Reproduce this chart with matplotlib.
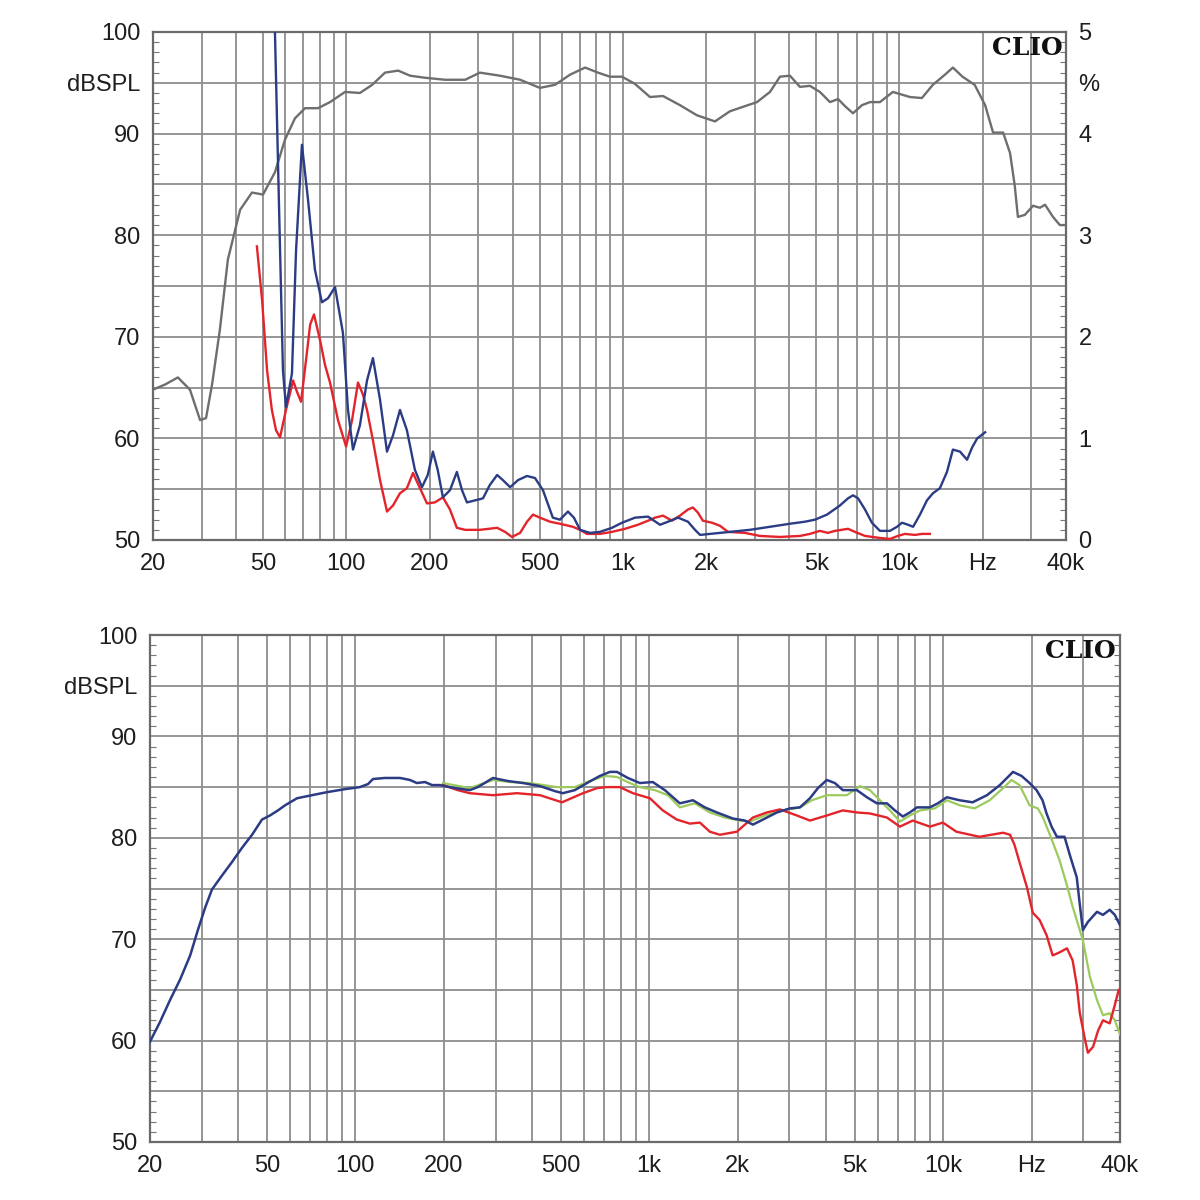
import matplotlib
matplotlib.use("Agg")
import matplotlib.pyplot as plt
from matplotlib.ticker import MultipleLocator, NullLocator

# ---------------- data: top chart ----------------
# SPL response (gray), left axis dB
spl_f = [20, 22.1, 24.6, 27.2, 29.6, 31.1, 32.7, 34.9, 37.3, 41.3, 45.6, 50.0, 55.2, 60.0, 65.2, 70.9,
         79.0, 87.3, 98.9, 112, 124, 138, 154, 170, 192, 227, 269, 304, 359, 425, 501, 568, 644, 730,
         813, 898, 992, 1105, 1253, 1396, 1608, 1853, 2153, 2438, 2762, 3053, 3402, 3697, 4017, 4366,
         4745, 5156, 5607, 5998, 6355, 6792, 7318, 7820, 8497, 9466, 10910, 12050, 13200, 14600, 15600,
         16900, 18700, 20400, 21800, 23700, 25100, 26100, 26800, 28400, 30400, 32200, 33600, 35900,
         38000, 40000]
spl_db = [64.8, 65.3, 66.0, 64.8, 61.8, 62.0, 65.3, 70.7, 77.6, 82.5, 84.2, 84.0, 86.2, 89.4, 91.5, 92.5,
          92.5, 93.1, 94.1, 94.0, 94.8, 96.0, 96.2, 95.7, 95.5, 95.3, 95.3, 96.0, 95.7, 95.3, 94.5, 94.8,
          95.8, 96.5, 96.0, 95.6, 95.6, 94.9, 93.6, 93.7, 92.8, 91.8, 91.2, 92.2, 92.7, 93.1, 94.1, 95.6,
          95.7, 94.6, 94.7, 94.1, 93.1, 93.4, 92.7, 92.0, 92.8, 93.1, 93.1, 94.1, 93.6, 93.5, 94.8, 95.8,
          96.5, 95.6, 94.8, 92.8, 90.1, 90.1, 88.1, 84.9, 81.8, 82.0, 82.9, 82.7, 83.0, 81.8, 81.0, 81.0]

# Distortion (blue) in %, right axis
thd2_f = [53.4, 55.2, 57.6, 59.0, 60.5, 63.6, 65.8, 69.1, 72.7, 77.0, 81.6, 85.9, 91.0, 97.2, 101.4,
          105.7, 112, 118.8, 124.8, 132.4, 140.3, 147.5, 156.3, 165.6, 177, 187.7, 197, 205.6, 214,
          223.5, 237, 251, 262, 273, 292, 312, 330, 351, 368, 391, 418, 450, 481, 514, 558, 592, 633,
          665, 700, 760, 826, 913, 993, 1106, 1233, 1362, 1456, 1582, 1719, 1823, 1901, 2065, 2438,
          2878, 3402, 4017, 4550, 4946, 5470, 6094, 6514, 6792, 7084, 7505, 7949, 8497, 9241, 9795,
          10210, 10740, 11200, 11860, 12570, 13210, 14000, 14850, 15600, 16550, 17550, 18300, 19100,
          20400]
thd2_pct = [5.6, 5.0, 2.85, 1.67, 1.31, 1.64, 2.85, 3.89, 3.35, 2.66, 2.34, 2.38, 2.49, 2.04, 1.28,
            0.89, 1.13, 1.57, 1.79, 1.38, 0.87, 1.03, 1.28, 1.08, 0.69, 0.52, 0.64, 0.87, 0.69, 0.42,
            0.49, 0.67, 0.49, 0.37, 0.39, 0.41, 0.54, 0.64, 0.59, 0.52, 0.59, 0.63, 0.61, 0.49, 0.22,
            0.20, 0.28, 0.22, 0.10, 0.07, 0.08, 0.12, 0.17, 0.22, 0.23, 0.15, 0.18, 0.22, 0.18, 0.10,
            0.05, 0.06, 0.08, 0.10, 0.13, 0.16, 0.18, 0.20, 0.25, 0.34, 0.41, 0.44, 0.41, 0.30, 0.17,
            0.09, 0.09, 0.13, 0.17, 0.15, 0.13, 0.25, 0.39, 0.46, 0.51, 0.67, 0.89, 0.87, 0.79, 0.91,
            1.00, 1.06]

# Distortion (red) in %, right axis
thd3_f = [47.5, 49.6, 51.7, 53.8, 55.7, 57.6, 60.5, 64.2, 66.3, 68.6, 71.5, 74.0, 76.4, 80.3, 83.8,
          87.3, 93.3, 99.8, 104.9, 110.2, 114.9, 118.8, 124.8, 132.4, 140.3, 147.5, 156.3, 165.6,
          174.2, 184.6, 195.7, 209, 223.5, 237, 251, 269, 304, 351, 375, 397, 425, 450, 473, 501, 545,
          592, 659, 700, 741, 826, 913, 1017, 1133, 1233, 1307, 1396, 1504, 1608, 1719, 1791, 1867,
          1946, 2100, 2244, 2399, 2762, 3128, 3697, 4366, 4745, 5156, 5510, 5846, 6514, 6902, 7505,
          8497, 9241, 9863, 10460, 11370, 12050, 12880]
thd3_pct = [2.89, 2.36, 1.67, 1.28, 1.08, 1.01, 1.28, 1.57, 1.46, 1.36, 1.77, 2.12, 2.22, 1.97, 1.72,
            1.55, 1.18, 0.92, 1.18, 1.55, 1.43, 1.28, 0.98, 0.59, 0.28, 0.34, 0.46, 0.51, 0.66, 0.51,
            0.36, 0.37, 0.42, 0.30, 0.12, 0.10, 0.10, 0.12, 0.08, 0.03, 0.07, 0.18, 0.25, 0.22, 0.18,
            0.16, 0.13, 0.10, 0.06, 0.06, 0.08, 0.11, 0.15, 0.19, 0.22, 0.24, 0.19, 0.24, 0.30, 0.32,
            0.27, 0.19, 0.17, 0.14, 0.08, 0.07, 0.04, 0.03, 0.04, 0.06, 0.09, 0.07, 0.09, 0.11, 0.08,
            0.04, 0.02, 0.01, 0.04, 0.06, 0.05, 0.06, 0.06]

# ---------------- data: bottom chart ----------------
blue_f = [20, 21.6, 23.4, 25.3, 27.4, 29.1, 30.8, 32.5, 35.2, 38.0, 41.1, 44.5, 48.1, 51.2, 54.5, 57.6,
          63.3, 71.1, 80.0, 92.2, 103.6, 110.4, 114.8, 126.1, 141.9, 153.5, 161.9, 172.5, 182.3, 194,
          218, 245, 261, 294, 330, 372, 425, 478, 508, 558, 614, 679, 735, 776, 846, 929, 1028, 1130,
          1271, 1409, 1546, 1698, 1926, 2115, 2253, 2477, 2719, 3011, 3257, 3523, 3750, 4020, 4283,
          4558, 5089, 5504, 5953, 6439, 6855, 7296, 7707, 8148, 9017, 9595, 10300, 11400, 12600,
          14100, 15600, 17300, 18500, 19700, 20800, 21800, 22500, 23400, 24400, 25900, 27000, 28500,
          29200, 29900, 31100, 33400, 35000, 36900, 38400, 40000]
blue_db = [59.9, 61.8, 64.0, 66.0, 68.4, 70.9, 73.1, 74.9, 76.3, 77.6, 79.0, 80.3, 81.8, 82.2, 82.7,
           83.2, 83.9, 84.2, 84.5, 84.8, 85.0, 85.3, 85.8, 85.9, 85.9, 85.7, 85.4, 85.5, 85.2, 85.2,
           84.9, 84.7, 85.0, 85.9, 85.6, 85.4, 85.1, 84.6, 84.4, 84.7, 85.4, 86.1, 86.5, 86.5, 85.9,
           85.4, 85.5, 84.7, 83.4, 83.7, 83.0, 82.5, 81.9, 81.7, 81.3, 81.9, 82.5, 82.9, 83.0, 83.9,
           84.9, 85.7, 85.4, 84.7, 84.7, 84.0, 83.4, 83.4, 82.7, 82.1, 82.5, 83.0, 83.0, 83.4, 84.0,
           83.7, 83.5, 84.2, 85.2, 86.5, 86.1, 85.4, 84.7, 83.7, 82.4, 81.1, 80.1, 80.1, 78.3, 76.1,
           73.4, 70.9, 71.7, 72.7, 72.4, 72.9, 72.4, 71.4]

green_f = [198.6, 245, 294, 336, 393, 485, 558, 628, 706, 776, 859, 929, 1045, 1158, 1271, 1429, 1608,
           1807, 2033, 2203, 2477, 2851, 3257, 3576, 4020, 4705, 5211, 5637, 6096, 6593, 7129, 7707,
           8337, 9376, 10300, 11400, 12800, 14400, 16000, 17100, 18200, 19700, 21000, 21800, 23100,
           24900, 26400, 27600, 29900, 31600, 33400, 35000, 36900, 38400, 40000]
green_db = [85.4, 84.9, 85.7, 85.5, 85.4, 85.0, 85.0, 85.6, 86.1, 86.0, 85.4, 85.0, 84.7, 84.2, 83.0,
            83.4, 82.5, 82.0, 81.7, 81.6, 82.2, 82.7, 83.0, 83.7, 84.2, 84.2, 85.1, 84.7, 83.7, 82.7,
            81.6, 82.2, 82.7, 82.9, 83.7, 83.2, 82.9, 83.7, 84.9, 85.7, 85.2, 83.2, 82.9, 82.1, 80.3,
            77.8, 75.3, 73.2, 69.9, 66.3, 64.0, 62.5, 62.7, 62.0, 60.6]

red_f = [198.6, 223, 245, 294, 355, 425, 505, 595, 664, 718, 794, 880, 1005, 1112, 1241, 1375, 1487,
         1608, 1739, 1987, 2253, 2513, 2786, 3180, 3523, 4020, 4558, 5089, 5637, 6439, 7129, 7886,
         9017, 9985, 11100, 13300, 16000, 16900, 17500, 18200, 19300, 20200, 21300, 22500, 23600,
         24900, 26400, 27600, 28500, 29200, 30400, 31100, 32400, 33700, 35000, 36900, 38400, 39600]
red_db = [85.2, 84.7, 84.4, 84.2, 84.4, 84.2, 83.5, 84.4, 84.9, 85.0, 85.0, 84.4, 83.9, 82.7, 81.8,
          81.4, 81.5, 80.6, 80.3, 80.6, 82.0, 82.5, 82.8, 82.2, 81.7, 82.2, 82.7, 82.5, 82.4, 82.0,
          81.1, 81.7, 81.1, 81.5, 80.6, 80.1, 80.5, 80.3, 79.3, 77.6, 75.1, 72.6, 71.9, 70.4, 68.4,
          68.7, 69.1, 67.9, 65.5, 62.7, 60.1, 58.8, 59.4, 61.0, 62.0, 61.7, 63.5, 65.0]

# ---------------- axis labelling ----------------
grid_freqs = [20, 30, 40, 50, 60, 70, 80, 90, 100, 200, 300, 400, 500, 600, 700, 800, 900,
              1000, 2000, 3000, 4000, 5000, 6000, 7000, 8000, 9000, 10000, 20000, 30000, 40000]
x_labels = {20: "20", 50: "50", 100: "100", 200: "200", 500: "500", 1000: "1k", 2000: "2k",
            5000: "5k", 10000: "10k", 20000: "Hz", 40000: "40k"}
y_ticks = [50, 55, 60, 65, 70, 75, 80, 85, 90, 95, 100]
y_labels = {50: "50", 60: "60", 70: "70", 80: "80", 90: "90", 95: "dBSPL", 100: "100"}
pct_ticks = [0, 0.5, 1, 1.5, 2, 2.5, 3, 3.5, 4, 4.5, 5]
pct_labels = {0: "0", 1: "1", 2: "2", 3: "3", 4: "4", 4.5: "%", 5: "5"}

# ---------------- drawing ----------------
FONT = "Liberation Sans"
TXT = "#1e1e1e"
GRID = "#8e8e8e"
SPINE = "#6a6a6a"
FS = 17

fig = plt.figure(figsize=(12, 12), dpi=100)
fig.patch.set_facecolor("white")
W = H = 1200.0
ax1 = fig.add_axes([153 / W, 1 - 540 / H, (1066 - 153) / W, (540 - 32) / H])
ax2 = fig.add_axes([150 / W, 1 - 1142 / H, (1120 - 150) / W, (1142 - 635) / H])

# twin (percent) axis for the top chart, created before styling the shared x axis
ax1.set_xscale("log")
ax1r = ax1.twinx()


def style(ax):
    ax.set_xscale("log")
    ax.set_xlim(20, 40000)
    ax.set_ylim(50, 100)
    ax.set_xticks(grid_freqs)
    ax.set_xticklabels([x_labels.get(f, "") for f in grid_freqs], fontfamily=FONT,
                       fontsize=FS, color=TXT)
    ax.xaxis.set_minor_locator(NullLocator())
    ax.set_yticks(y_ticks)
    ax.set_yticklabels([y_labels.get(v, "") for v in y_ticks], fontfamily=FONT,
                       fontsize=FS, color=TXT)
    ax.yaxis.set_minor_locator(MultipleLocator(1))
    ax.tick_params(which="major", length=0, pad=9)
    ax.tick_params(axis="y", which="minor", direction="in", length=4, width=0.8,
                   color="#777777", left=True, right=True)
    ax.grid(True, which="major", color=GRID, lw=1.3, zorder=0)
    ax.set_axisbelow(True)
    for s in ax.spines.values():
        s.set_color(SPINE)
        s.set_linewidth(1.6)
    ax.text(0.996, 0.993, "CLIO", transform=ax.transAxes, ha="right", va="top",
            fontfamily="DejaVu Serif", fontweight="bold", fontsize=18, color="#111111",
            zorder=10)


style(ax1)
style(ax2)

# top chart
ax1.plot(spl_f, spl_db, color="#6e6e6e", lw=1.7, zorder=3)
ax1r.set_ylim(0, 5)
ax1r.set_yticks(pct_ticks)
ax1r.set_yticklabels([pct_labels.get(v, "") for v in pct_ticks], fontfamily=FONT,
                     fontsize=FS, color=TXT)
ax1r.tick_params(which="major", length=0, pad=9)
ax1r.yaxis.set_minor_locator(NullLocator())
for s in ax1r.spines.values():
    s.set_visible(False)
ax1r.plot(thd3_f, thd3_pct, color="#e3242b", lw=1.7, zorder=3)
ax1r.plot(thd2_f, thd2_pct, color="#2b3c85", lw=1.7, zorder=4)
ax1r.set_xlim(20, 40000)

fig.sca(ax2)
ax2.plot(green_f, green_db, color="#9ccb5c", lw=1.6, zorder=3)
ax2.plot(red_f, red_db, color="#e3242b", lw=1.7, zorder=4)
ax2.plot(blue_f, blue_db, color="#2b3c85", lw=1.8, zorder=5)

fig.savefig("out.png", dpi=100, facecolor="white")
